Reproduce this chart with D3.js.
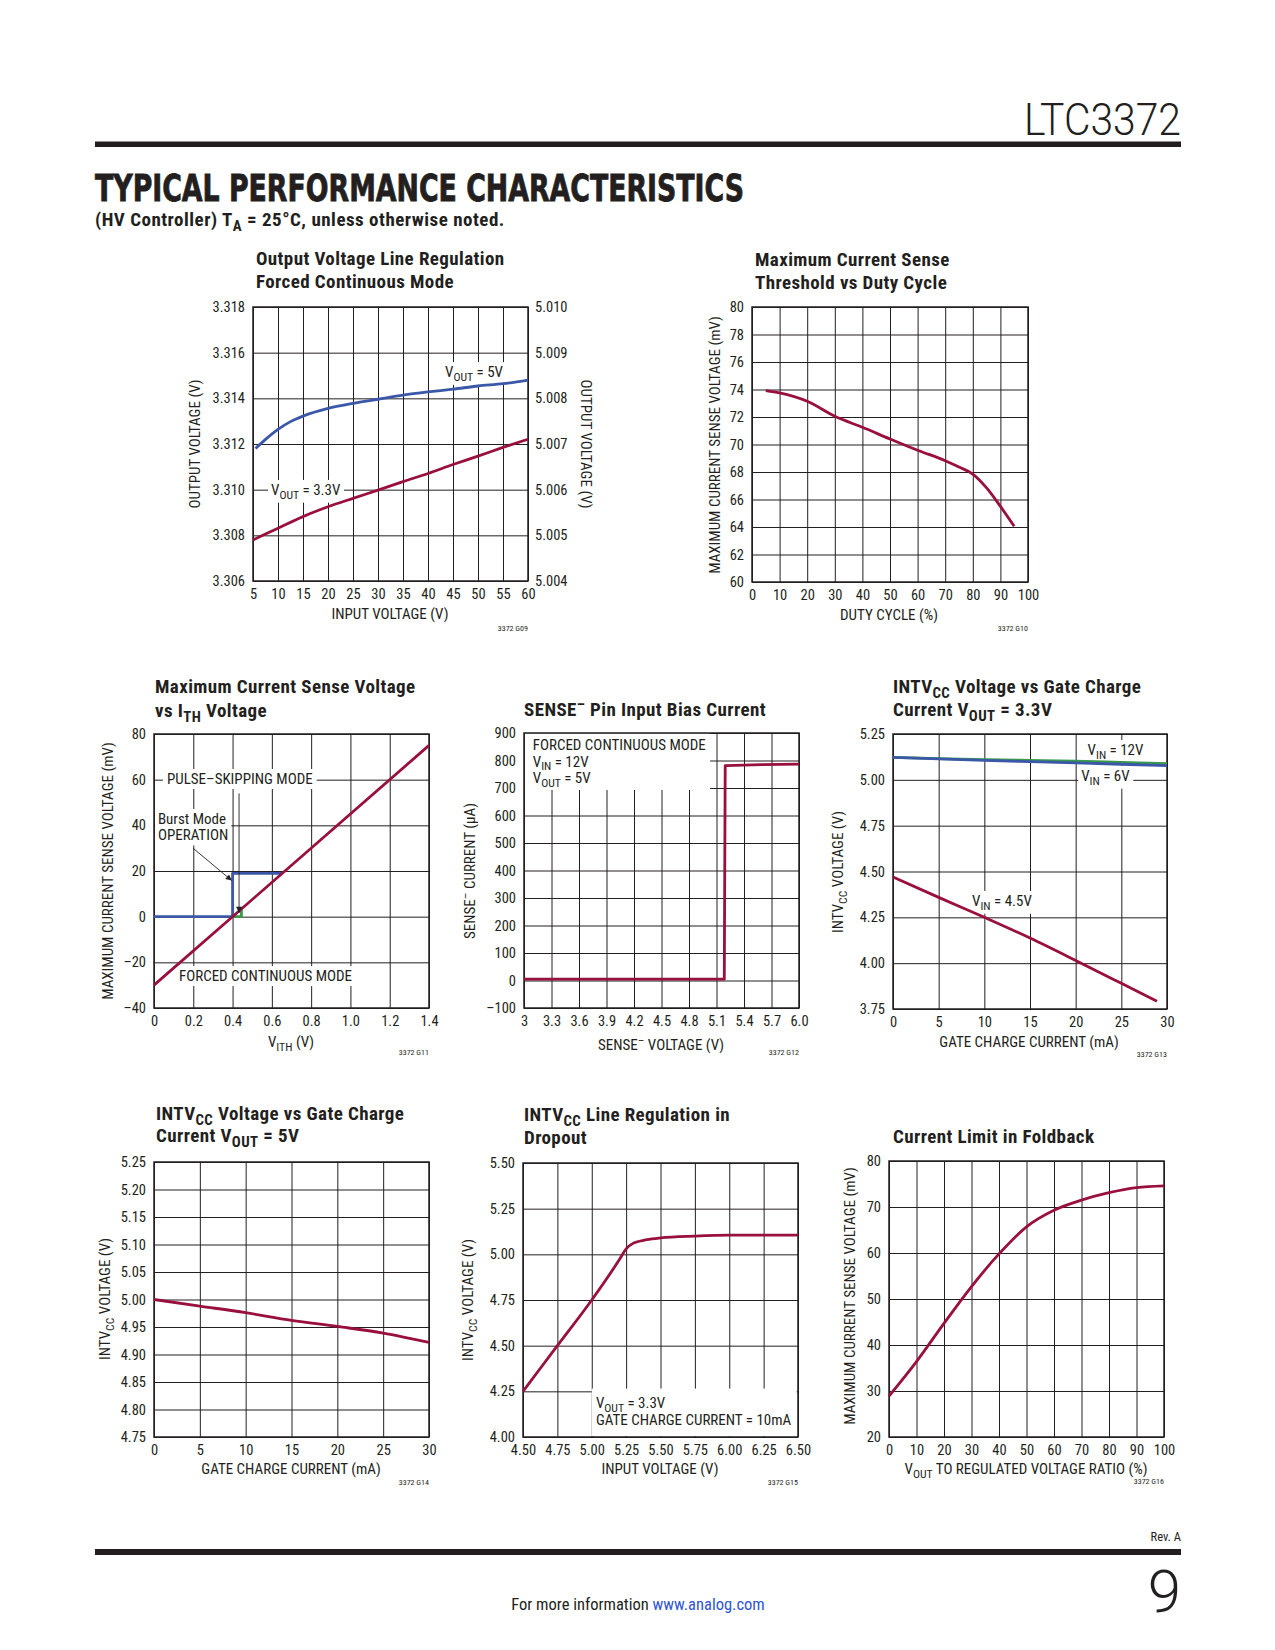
<!DOCTYPE html>
<html>
<head>
<meta charset="utf-8">
<script src="https://cdn.jsdelivr.net/npm/d3@7"></script>
<style>
body { margin: 0; background: #fff; }
</style>
</head>
<body>
<svg id="page" width="1275" height="1650"></svg>
<script>
// ---- data ----

// Output Voltage Line Regulation, Forced Continuous Mode
var lineRegTicks = [5, 10, 15, 20, 25, 30, 35, 40, 45, 50, 55, 60];
var lineRegTickLabels = ["5", "10", "15", "20", "25", "30", "35", "40", "45", "50", "55", "60"];
var lineRegLeftTicks = [3.306, 3.308, 3.310, 3.312, 3.314, 3.316, 3.318];
var lineRegLeftLabels = ["3.306", "3.308", "3.310", "3.312", "3.314", "3.316", "3.318"];
var lineRegRightTicks = [5.004, 5.005, 5.006, 5.007, 5.008, 5.009, 5.010];
var lineRegRightLabels = ["5.004", "5.005", "5.006", "5.007", "5.008", "5.009", "5.010"];
var lineReg5VIn = [5.5, 7.5, 10, 12.5, 15, 20, 25, 30, 35, 40, 45, 50, 55, 60];
var lineReg5VOut = [5.0069, 5.0071, 5.00732, 5.00749, 5.00761, 5.00778, 5.00789, 5.00798, 5.00807, 5.00814, 5.0082, 5.00827, 5.00832, 5.0084];
var lineReg33In = [5, 10, 15, 20, 25, 30, 35, 40, 45, 50, 55, 60];
var lineReg33Out = [3.3078, 3.30831, 3.30882, 3.30925, 3.30962, 3.30998, 3.31035, 3.31071, 3.3111, 3.31147, 3.31185, 3.31221];

// Maximum Current Sense Threshold vs Duty Cycle
var dutyTicks = [0, 10, 20, 30, 40, 50, 60, 70, 80, 90, 100];
var dutyTickLabels = ["0", "10", "20", "30", "40", "50", "60", "70", "80", "90", "100"];
var thresholdTicks = [60, 62, 64, 66, 68, 70, 72, 74, 76, 78, 80];
var thresholdTickLabels = ["60", "62", "64", "66", "68", "70", "72", "74", "76", "78", "80"];
var dutyCycle = [5, 10, 20, 30, 40, 50, 60, 70, 75, 80, 85, 90, 95];
var dutyThreshold = [73.92, 73.75, 73.14, 72.05, 71.25, 70.4, 69.58, 68.82, 68.36, 67.85, 66.84, 65.5, 64.05];

// Maximum Current Sense Voltage vs ITH Voltage
var ithTicks = [0, 0.2, 0.4, 0.6, 0.8, 1.0, 1.2, 1.4];
var ithTickLabels = ["0", "0.2", "0.4", "0.6", "0.8", "1.0", "1.2", "1.4"];
var ithSenseTicks = [-40, -20, 0, 20, 40, 60, 80];
var ithSenseTickLabels = ["\u201340", "\u201320", "0", "20", "40", "60", "80"];
var ithFcmV = [0, 1.4];
var ithFcmSense = [-30, 75];
var ithPulseV = [0, 0.4, 0.4, 0.653];
var ithPulseSense = [0, 0, 19, 19];
var ithBurstV = [0.4, 0.445, 0.445];
var ithBurstSense = [0, 0, 3.4];

// SENSE- Pin Input Bias Current
var senseVTicks = [3, 3.3, 3.6, 3.9, 4.2, 4.5, 4.8, 5.1, 5.4, 5.7, 6.0];
var senseVTickLabels = ["3", "3.3", "3.6", "3.9", "4.2", "4.5", "4.8", "5.1", "5.4", "5.7", "6.0"];
var senseITicks = [-100, 0, 100, 200, 300, 400, 500, 600, 700, 800, 900];
var senseITickLabels = ["\u2013100", "0", "100", "200", "300", "400", "500", "600", "700", "800", "900"];
var senseV = [3.0, 5.185, 5.195, 5.6, 6.0];
var senseI = [5, 5, 781, 785, 787];

// INTVCC Voltage vs Gate Charge Current, VOUT = 3.3V
var gateTicks = [0, 5, 10, 15, 20, 25, 30];
var gateTickLabels = ["0", "5", "10", "15", "20", "25", "30"];
var intvcc33Ticks = [3.75, 4.00, 4.25, 4.50, 4.75, 5.00, 5.25];
var intvcc33TickLabels = ["3.75", "4.00", "4.25", "4.50", "4.75", "5.00", "5.25"];
var gate33Current = [0, 5, 10, 15, 20, 25, 30];
var intvcc33Vin6 = [5.123, 5.114, 5.106, 5.099, 5.092, 5.085, 5.078];
var intvcc33Vin12 = [5.123, 5.116, 5.110, 5.106, 5.102, 5.095, 5.088];
var gate33CurrentLow = [0, 5, 10, 15, 20, 25, 28.9];
var intvcc33Vin45 = [4.47, 4.359, 4.25, 4.137, 4.015, 3.89, 3.792];

// INTVCC Voltage vs Gate Charge Current, VOUT = 5V
var intvcc5Ticks = [4.75, 4.80, 4.85, 4.90, 4.95, 5.00, 5.05, 5.10, 5.15, 5.20, 5.25];
var intvcc5TickLabels = ["4.75", "4.80", "4.85", "4.90", "4.95", "5.00", "5.05", "5.10", "5.15", "5.20", "5.25"];
var gate5Current = [0, 5, 10, 15, 20, 25, 30];
var intvcc5 = [5.000, 4.988, 4.976, 4.962, 4.951, 4.939, 4.922];

// INTVCC Line Regulation in Dropout
var dropVinTicks = [4.50, 4.75, 5.00, 5.25, 5.50, 5.75, 6.00, 6.25, 6.50];
var dropVinTickLabels = ["4.50", "4.75", "5.00", "5.25", "5.50", "5.75", "6.00", "6.25", "6.50"];
var dropVccTicks = [4.00, 4.25, 4.50, 4.75, 5.00, 5.25, 5.50];
var dropVccTickLabels = ["4.00", "4.25", "4.50", "4.75", "5.00", "5.25", "5.50"];
var dropVin = [4.5, 4.75, 5.0, 5.2, 5.25, 5.3, 5.4, 5.5, 5.75, 6.0, 6.25, 6.5];
var dropVcc = [4.25, 4.5, 4.75, 4.97, 5.03, 5.06, 5.08, 5.09, 5.1, 5.105, 5.105, 5.105];

// Current Limit in Foldback
var foldTicks = [0, 10, 20, 30, 40, 50, 60, 70, 80, 90, 100];
var foldTickLabels = ["0", "10", "20", "30", "40", "50", "60", "70", "80", "90", "100"];
var foldSenseTicks = [20, 30, 40, 50, 60, 70, 80];
var foldSenseTickLabels = ["20", "30", "40", "50", "60", "70", "80"];
var foldRatio = [0, 10, 20, 30, 40, 50, 60, 70, 80, 90, 100];
var foldSense = [28.9, 36.4, 44.7, 52.7, 59.8, 65.7, 69.3, 71.5, 73.1, 74.2, 74.6];

// ---- drawing ----
var INK = "#231f20";
var RED = "#990f3d";
var BLUE = "#3b57a8";
var GREEN = "#3a9a4a";
var NARROW = "'Liberation Sans Narrow', 'Roboto Condensed', 'Arial Narrow', 'Liberation Sans', sans-serif";
var LABEL_SIZE = 15;

var svg = d3.select("#page");

var defs = svg.append("defs");
defs.append("marker")
    .attr("id", "arrow")
    .attr("viewBox", "0 0 10 10")
    .attr("refX", 10).attr("refY", 5)
    .attr("markerWidth", 10).attr("markerHeight", 6)
    .attr("markerUnits", "userSpaceOnUse")
    .attr("orient", "auto")
    .append("path")
    .attr("d", "M0,0 L10,5 L0,10 z")
    .attr("fill", INK);

function zip(a, b) {
    return a.map(function(v, i) { return [v, b[i]]; });
}

// writes "V_{OUT}" style strings as tspans with sub/superscripts
function rich(sel, str, fs) {
    var parts = str.split(/(_\{[^}]*\}|\^\{[^}]*\})/).filter(function(s) { return s.length; });
    var shift = 0;
    parts.forEach(function(p) {
        var t = p, off = 0, small = false;
        if (p.indexOf("_{") === 0) { t = p.slice(2, -1); off = 0.25 * fs; small = true; }
        else if (p.indexOf("^{") === 0) { t = p.slice(2, -1); off = -0.38 * fs; small = true; }
        var ts = sel.append("tspan").attr("dy", off - shift).text(t);
        if (small) ts.attr("font-size", fs * 0.78);
        shift = off;
    });
}

function pageText(x, y, str, opts) {
    opts = opts || {};
    var fs = opts.size || LABEL_SIZE;
    var t = svg.append("text")
        .attr("x", x).attr("y", y)
        .attr("font-family", opts.family || NARROW)
        .attr("font-size", fs)
        .attr("font-weight", opts.weight || "normal")
        .attr("text-anchor", opts.anchor || "start")
        .attr("fill", opts.color || INK);
    if (opts.spacing) t.attr("letter-spacing", opts.spacing);
    if (opts.rotate) {
        t.attr("x", null).attr("y", null)
         .attr("transform", "translate(" + x + "," + y + ") rotate(" + opts.rotate + ")")
         .attr("dy", "0.35em");
    }
    rich(t, str, fs);
    return t;
}

function drawChart(c) {
    var g = svg.append("g").attr("transform", "translate(" + c.x + "," + c.y + ")");
    var xScale = d3.scaleLinear().domain(c.xDomain).range([0, c.w]);
    var yScale = d3.scaleLinear().domain(c.yDomain).range([c.h, 0]);
    var y2Scale = c.y2Domain ? d3.scaleLinear().domain(c.y2Domain).range([c.h, 0]) : null;

    var xAxis = d3.axisBottom(xScale)
        .tickValues(c.xTicks)
        .tickFormat(function(d, i) { return c.xLabels[i]; })
        .tickSize(-c.h).tickPadding(8);
    var yAxis = d3.axisLeft(yScale)
        .tickValues(c.yTicks)
        .tickFormat(function(d, i) { return c.yLabels[i]; })
        .tickSize(-c.w).tickPadding(8);

    var gx = g.append("g").attr("transform", "translate(0," + c.h + ")").call(xAxis);
    var gy = g.append("g").call(yAxis);
    var axes = [gx, gy];
    if (y2Scale) {
        var y2Axis = d3.axisRight(y2Scale)
            .tickValues(c.y2Ticks)
            .tickFormat(function(d, i) { return c.y2Labels[i]; })
            .tickSize(0).tickPadding(7);
        axes.push(g.append("g").attr("transform", "translate(" + c.w + ",0)").call(y2Axis));
    }
    axes.forEach(function(a) {
        a.attr("font-family", NARROW).attr("font-size", 14.5).attr("color", INK);
        a.select(".domain").remove();
        a.selectAll(".tick line").attr("stroke", INK).attr("stroke-width", 1);
    });

    var boxLayer = g.append("g");
    g.append("rect")
        .attr("width", c.w).attr("height", c.h)
        .attr("fill", "none").attr("stroke", INK).attr("stroke-width", 1.5);

    (c.boxes || []).forEach(function(b) {
        var x0 = xScale(b.x[0]), x1 = xScale(b.x[1]);
        var y0 = yScale(b.y[1]), y1 = yScale(b.y[0]);
        boxLayer.append("rect")
            .attr("x", x0).attr("y", y0)
            .attr("width", x1 - x0).attr("height", y1 - y0)
            .attr("fill", "#fff");
    });

    var curves = g.append("g").attr("fill", "none").attr("stroke-width", 2.8)
        .attr("stroke-linejoin", "round");
    c.series.forEach(function(s) {
        var ys = s.axis === 2 ? y2Scale : yScale;
        var line = d3.line()
            .x(function(d) { return xScale(d[0]); })
            .y(function(d) { return ys(d[1]); })
            .curve(s.step ? d3.curveLinear : d3.curveMonotoneX);
        curves.append("path")
            .datum(zip(s.x, s.y))
            .attr("d", line)
            .attr("stroke", s.color);
    });

    (c.arrows || []).forEach(function(a) {
        g.append("line")
            .attr("x1", xScale(a.from[0])).attr("y1", yScale(a.from[1]))
            .attr("x2", xScale(a.to[0])).attr("y2", yScale(a.to[1]))
            .attr("stroke", INK).attr("stroke-width", 0.9)
            .attr("marker-end", "url(#arrow)");
    });

    (c.notes || []).forEach(function(n) {
        var fs = LABEL_SIZE;
        var t = g.append("text")
            .attr("font-family", NARROW).attr("font-size", fs).attr("fill", INK);
        n.lines.forEach(function(l, i) {
            var ln = t.append("tspan")
                .attr("x", xScale(n.x))
                .attr("y", yScale(n.y) + i * (n.lead || 17));
            rich(ln, l, fs);
        });
        if (n.box) {
            var bb = t.node().getBBox();
            var p = n.pad || 3;
            boxLayer.append("rect")
                .attr("x", bb.x - p).attr("y", bb.y - 1)
                .attr("width", bb.width + 2 * p).attr("height", bb.height + 2)
                .attr("fill", "#fff");
        }
    });

    c.title.forEach(function(line, i) {
        pageText(c.tx, c.ty[i], line, { size: 19, weight: "bold", spacing: 0.4 });
    });
    pageText(c.ylx, c.yly, c.ylab, { anchor: "middle", rotate: -90 });
    if (c.y2lab) pageText(c.y2lx, c.y2ly, c.y2lab, { anchor: "middle", rotate: 90 });
    pageText(c.xlx, c.xly + 5, c.xlab, { anchor: "middle" });
    pageText(c.x + c.w, c.codeY, c.code, { anchor: "end", size: 8 });
}

var charts = [
    {
        x: 253, y: 307, w: 275, h: 274,
        xDomain: [5, 60], xTicks: lineRegTicks, xLabels: lineRegTickLabels,
        yDomain: [3.306, 3.318], yTicks: lineRegLeftTicks, yLabels: lineRegLeftLabels,
        y2Domain: [5.004, 5.010], y2Ticks: lineRegRightTicks, y2Labels: lineRegRightLabels,
        title: ["Output Voltage Line Regulation", "Forced Continuous Mode"], tx: 256, ty: [265, 288],
        ylab: "OUTPUT VOLTAGE (V)", ylx: 200, yly: 444,
        y2lab: "OUTPUT VOLTAGE (V)", y2lx: 581, y2ly: 444,
        xlab: "INPUT VOLTAGE (V)", xlx: 390, xly: 614,
        code: "3372 G09", codeY: 631,
        series: [
            { x: lineReg5VIn, y: lineReg5VOut, axis: 2, color: BLUE },
            { x: lineReg33In, y: lineReg33Out, color: RED }
        ],
        notes: [
            { x: 43.4, y: 3.31493, lines: ["V_{OUT} = 5V"], box: true },
            { x: 8.6, y: 3.30977, lines: ["V_{OUT} = 3.3V"], box: true }
        ]
    },
    {
        x: 752, y: 307, w: 276, h: 275,
        xDomain: [0, 100], xTicks: dutyTicks, xLabels: dutyTickLabels,
        yDomain: [60, 80], yTicks: thresholdTicks, yLabels: thresholdTickLabels,
        title: ["Maximum Current Sense", "Threshold vs Duty Cycle"], tx: 755, ty: [266, 289],
        ylab: "MAXIMUM CURRENT SENSE VOLTAGE (mV)", ylx: 720, yly: 445,
        xlab: "DUTY CYCLE (%)", xlx: 889, xly: 615,
        code: "3372 G10", codeY: 631,
        series: [{ x: dutyCycle, y: dutyThreshold, color: RED }]
    },
    {
        x: 154, y: 734, w: 275, h: 274,
        xDomain: [0, 1.4], xTicks: ithTicks, xLabels: ithTickLabels,
        yDomain: [-40, 80], yTicks: ithSenseTicks, yLabels: ithSenseTickLabels,
        title: ["Maximum Current Sense Voltage", "vs I_{TH} Voltage"], tx: 155, ty: [693, 717],
        ylab: "MAXIMUM CURRENT SENSE VOLTAGE (mV)", ylx: 113, yly: 871,
        xlab: "V_{ITH} (V)", xlx: 291, xly: 1042,
        code: "3372 G11", codeY: 1055,
        series: [
            { x: ithPulseV, y: ithPulseSense, color: BLUE, step: true },
            { x: ithBurstV, y: ithBurstSense, color: GREEN, step: true },
            { x: ithFcmV, y: ithFcmSense, color: RED, step: true }
        ],
        notes: [
            { x: 0.066, y: 58.1, lines: ["PULSE\u2013SKIPPING MODE"], box: true, pad: 4 },
            { x: 0.02, y: 40.6, lines: ["Burst Mode", "OPERATION"], box: true, lead: 16.5 },
            { x: 0.127, y: -28.2, lines: ["FORCED CONTINUOUS MODE"], box: true, pad: 4 }
        ],
        arrows: [
            { from: [0.433, 54], to: [0.433, 1.7] },
            { from: [0.2, 29.9], to: [0.396, 15.8] }
        ]
    },
    {
        x: 524, y: 733, w: 275, h: 275,
        xDomain: [3, 6], xTicks: senseVTicks, xLabels: senseVTickLabels,
        yDomain: [-100, 900], yTicks: senseITicks, yLabels: senseITickLabels,
        title: ["SENSE^{\u2013} Pin Input Bias Current"], tx: 524, ty: [716],
        ylab: "SENSE^{\u2013} CURRENT (\u00b5A)", ylx: 475, yly: 871,
        xlab: "SENSE^{\u2013} VOLTAGE (V)", xlx: 661, xly: 1045,
        code: "3372 G12", codeY: 1055,
        series: [{ x: senseV, y: senseI, color: RED, step: true }],
        boxes: [{ x: [3.01, 5.03], y: [693, 899] }],
        notes: [
            { x: 3.095, y: 838, lines: ["FORCED CONTINUOUS MODE", "V_{IN} = 12V", "V_{OUT} = 5V"], lead: 16.5 }
        ]
    },
    {
        x: 893, y: 734, w: 274, h: 275,
        xDomain: [0, 30], xTicks: gateTicks, xLabels: gateTickLabels,
        yDomain: [3.75, 5.25], yTicks: intvcc33Ticks, yLabels: intvcc33TickLabels,
        title: ["INTV_{CC} Voltage vs Gate Charge", "Current V_{OUT} = 3.3V"], tx: 893, ty: [693, 716],
        ylab: "INTV_{CC} VOLTAGE (V)", ylx: 843, yly: 872,
        xlab: "GATE CHARGE CURRENT (mA)", xlx: 1029, xly: 1042,
        code: "3372 G13", codeY: 1057,
        series: [
            { x: gate33Current, y: intvcc33Vin12, color: GREEN },
            { x: gate33Current, y: intvcc33Vin6, color: BLUE },
            { x: gate33CurrentLow, y: intvcc33Vin45, color: RED }
        ],
        notes: [
            { x: 21.3, y: 5.135, lines: ["V_{IN} = 12V"], box: true },
            { x: 20.6, y: 4.994, lines: ["V_{IN} = 6V"], box: true },
            { x: 8.65, y: 4.312, lines: ["V_{IN} = 4.5V"], box: true }
        ]
    },
    {
        x: 154, y: 1162, w: 275, h: 275,
        xDomain: [0, 30], xTicks: gateTicks, xLabels: gateTickLabels,
        yDomain: [4.75, 5.25], yTicks: intvcc5Ticks, yLabels: intvcc5TickLabels,
        title: ["INTV_{CC} Voltage vs Gate Charge", "Current V_{OUT} = 5V"], tx: 156, ty: [1120, 1142],
        ylab: "INTV_{CC} VOLTAGE (V)", ylx: 110, yly: 1299,
        xlab: "GATE CHARGE CURRENT (mA)", xlx: 291, xly: 1469,
        code: "3372 G14", codeY: 1485,
        series: [{ x: gate5Current, y: intvcc5, color: RED }]
    },
    {
        x: 523, y: 1163, w: 275, h: 274,
        xDomain: [4.5, 6.5], xTicks: dropVinTicks, xLabels: dropVinTickLabels,
        yDomain: [4.0, 5.5], yTicks: dropVccTicks, yLabels: dropVccTickLabels,
        title: ["INTV_{CC} Line Regulation in", "Dropout"], tx: 524, ty: [1121, 1144],
        ylab: "INTV_{CC} VOLTAGE (V)", ylx: 473, yly: 1300,
        xlab: "INPUT VOLTAGE (V)", xlx: 660, xly: 1469,
        code: "3372 G15", codeY: 1485,
        series: [{ x: dropVin, y: dropVcc, color: RED }],
        boxes: [{ x: [5.0, 6.49], y: [4.005, 4.265] }],
        notes: [
            { x: 5.03, y: 4.159, lines: ["V_{OUT} = 3.3V", "GATE CHARGE CURRENT = 10mA"], lead: 17 }
        ]
    },
    {
        x: 889, y: 1161, w: 275, h: 276,
        xDomain: [0, 100], xTicks: foldTicks, xLabels: foldTickLabels,
        yDomain: [20, 80], yTicks: foldSenseTicks, yLabels: foldSenseTickLabels,
        title: ["Current Limit in Foldback"], tx: 893, ty: [1143],
        ylab: "MAXIMUM CURRENT SENSE VOLTAGE (mV)", ylx: 855, yly: 1296,
        xlab: "V_{OUT} TO REGULATED VOLTAGE RATIO (%)", xlx: 1026, xly: 1469,
        code: "3372 G16", codeY: 1484,
        series: [{ x: foldRatio, y: foldSense, color: RED }]
    }
];

charts.forEach(drawChart);

// ---- page furniture ----
svg.append("text")
    .attr("x", 1181).attr("y", 135)
    .attr("text-anchor", "end")
    .attr("font-family", "Roboto, 'Liberation Sans', sans-serif")
    .attr("font-weight", 300).attr("font-size", 44)
    .attr("fill", INK)
    .attr("textLength", 157).attr("lengthAdjust", "spacingAndGlyphs")
    .text("LTC3372");
svg.append("rect").attr("x", 95).attr("y", 141.5).attr("width", 1086).attr("height", 5.5).attr("fill", INK);

svg.append("text")
    .attr("x", 95).attr("y", 201)
    .attr("font-family", "'DejaVu Sans Condensed', 'DejaVu Sans', sans-serif")
    .attr("font-weight", "bold").attr("font-size", 37)
    .attr("fill", INK)
    .attr("stroke", INK).attr("stroke-width", 0.8)
    .attr("textLength", 649).attr("lengthAdjust", "spacingAndGlyphs")
    .text("TYPICAL PERFORMANCE CHARACTERISTICS");
pageText(95, 226, "(HV Controller) T_{A} = 25\u00b0C, unless otherwise noted.", { size: 19, weight: "bold", spacing: 0.5 });

pageText(1181, 1541, "Rev. A", { anchor: "end", size: 12.5 });
svg.append("rect").attr("x", 95).attr("y", 1549).attr("width", 1086).attr("height", 6).attr("fill", INK);
svg.append("text")
    .attr("x", 1181).attr("y", 1612)
    .attr("text-anchor", "end")
    .attr("font-family", "Roboto, 'Liberation Sans', sans-serif")
    .attr("font-weight", 300).attr("font-size", 60)
    .attr("fill", INK)
    .text("9");

var foot = svg.append("text")
    .attr("x", 638).attr("y", 1610)
    .attr("text-anchor", "middle")
    .attr("font-family", NARROW).attr("font-size", 16.5)
    .attr("fill", INK);
foot.append("tspan").text("For more information ");
foot.append("tspan").attr("fill", "#2f55d4").text("www.analog.com");
</script>
</body>
</html>
